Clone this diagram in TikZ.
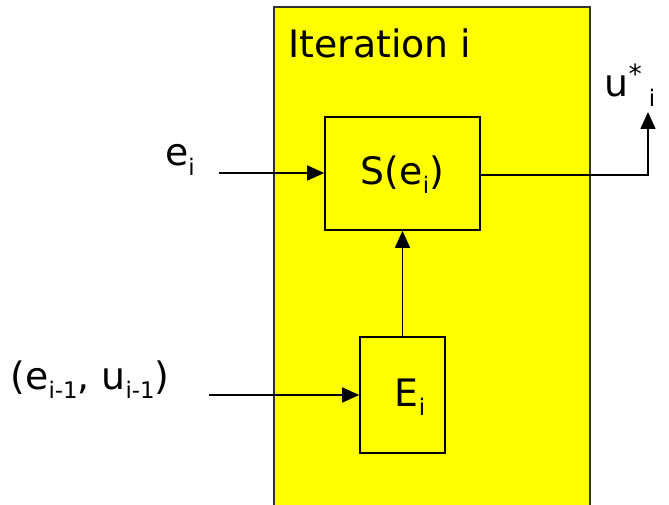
\documentclass[tikz,border=0pt]{standalone}
\usepackage{fontspec}
\setmainfont{DejaVu Sans}
\usetikzlibrary{arrows.meta}

\definecolor{iteryellow}{RGB}{255,255,0}
\newcommand\idx[1]{\raisebox{-0.45ex}{\fontsize{13}{13}\selectfont #1}}

\tikzset{
  block/.style={draw, line width=0.9pt, fill=iteryellow, inner sep=0pt},
  flow/.style={line width=0.9pt, -{Triangle[length=0.34cm,width=0.3cm]}},
  lbl/.style={font=\fontsize{21.5}{24}\selectfont, inner sep=0pt}
}

\begin{document}
\begin{tikzpicture}[scale=1]
  \useasboundingbox (0,0) rectangle (13.38,10.1);

  \fill[iteryellow] (5.48,0) rectangle (11.8,9.96);
  \draw[line width=0.8pt, black!80] (5.48,0) -- (5.48,9.96) -- (11.8,9.96) -- (11.8,0);
  \node[lbl, anchor=base west] (title) at (5.76,8.94) {Iteration i};

  \node[block, minimum width=3.1cm, minimum height=2.26cm] (S) at (8.05,6.63) {};
  \node[lbl] (Slabel) at (8.05,6.6) {S(e\idx{i})};
  \node[block, minimum width=1.7cm, minimum height=2.32cm] (E) at (8.05,2.2) {};
  \node[lbl] (Elabel) at (8.2,2.15) {E\idx{i}};

  \coordinate (ein) at (4.38,6.64);
  \coordinate (hin) at (4.18,2.2);
  \coordinate (corner) at (12.96,6.6);
  \coordinate (uout) at (12.96,7.86);

  \node[lbl] (e) at (3.6,6.9) {e\idx{i}};
  \node[lbl] (h) at (1.8,2.5) {(e\idx{i-1}, u\idx{i-1})};
  \node[lbl] (u) at (12.6,8.4) {u\textsuperscript{*}\,\idx{i}};

  \draw[flow] (ein) -- (ein -| S.west);
  \draw[flow] (hin) -- (hin -| E.west);
  \draw[flow] (E.north) -- (S.south);
  \draw[flow] (S.east |- corner) -- (corner) -- (uout);
\end{tikzpicture}
\end{document}
